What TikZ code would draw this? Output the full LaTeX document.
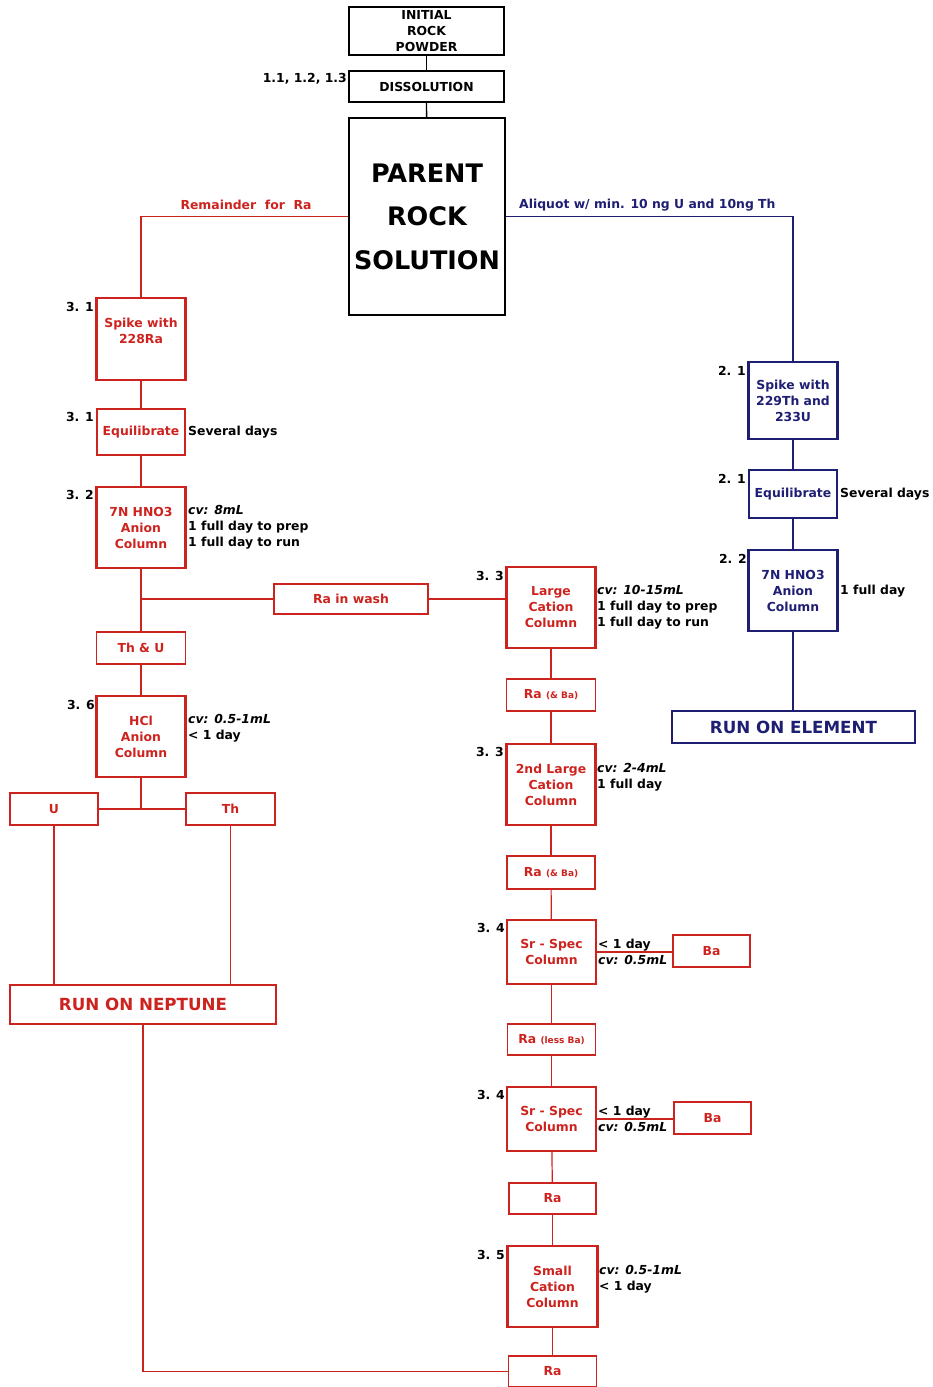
\documentclass[tikz,border=0pt]{standalone}
\usepackage{fontspec}
\setmainfont{DejaVu Sans}
\definecolor{rd}{RGB}{205,35,30}
\definecolor{nv}{RGB}{30,30,115}
\begin{document}
\begin{tikzpicture}[x=1pt,y=-1pt,
  every node/.style={font=\fontsize{12.4}{16}\selectfont\bfseries, inner sep=0pt},
  sz/.style 2 args={minimum width=#1pt, minimum height=#2pt},
  bx/.style={draw, align=center},
  thin/.style={bx, line width=1.2pt},
  thick/.style={bx, line width=2.3pt},
  rthin/.style={thin, draw=rd, text=rd},
  rthick/.style={thick, draw=rd, text=rd},
  nthin/.style={thin, draw=nv, text=nv},
  nthick/.style={thick, draw=nv, text=nv},
  rl/.style={draw=rd, line width=1.2pt},
  nl/.style={draw=nv, line width=1.2pt},
  kl/.style={draw=black, line width=1.3pt},
  stepl/.style={anchor=east, text=black},
  side/.style={anchor=west, align=left, text=black},
  small/.style={font=\fontsize{9.5}{10}\selectfont\bfseries}
]
\useasboundingbox (0,0) rectangle (933,1387);

% ---------- black top ----------
\node[thick, sz={155}{48}] (ini) at (426.5,31) {INITIAL\\ROCK\\POWDER};
\node[thin, sz={155}{31}] (diss) at (426.5,86.5) {DISSOLUTION};
\node[stepl] (l11) at (347,79) {1.1, 1.2, 1.3};
\node[bx, line width=2.5pt, sz={156}{197}, font=\fontsize{25.5}{43.5}\selectfont\bfseries] (parent) at (427,216.5) {PARENT\\ROCK\\SOLUTION};
\draw[kl] (ini) -- (diss);
\draw[kl] (diss) -- (parent);

% ---------- branch labels ----------
\node[text=rd] (rem) at (246,205) {Remainder\ \ for\ \ Ra};
\node[text=nv, anchor=west] (ali) at (519,205) {Aliquot w/ min. 10 ng U and 10ng Th};

% ---------- left red column ----------
\node[rthick, sz={89}{82}] (s31a) at (141,339) {Spike with\\228Ra\\\mbox{}};
\node[rthin, sz={88}{46}] (s31b) at (141,432) {Equilibrate};
\node[rthick, sz={89}{81}] (s32) at (141,527.5) {7N HNO3\\Anion\\Column};
\node[rthin, sz={89}{32}] (thu) at (141,648) {Th \& U};
\node[rthick, sz={89}{81}] (hcl) at (141,736.5) {HCl\\Anion\\Column};
\node[rthin, sz={88}{32}] (ubox) at (54,809) {U};
\node[rthin, sz={89}{32}] (thbox) at (230.5,809) {Th};
\node[rthin, sz={266}{39}, font=\fontsize{16.7}{20}\selectfont\bfseries] (nep) at (143,1004.5) {RUN ON NEPTUNE};
\node[rthin, sz={154}{30}] (rawash) at (351,599) {Ra in wash};

\node[stepl] (n31a) at (94,307) {3. 1};
\node[stepl] (n31b) at (94,417) {3. 1};
\node[stepl] (n32) at (94,495) {3. 2};
\node[stepl] (n36) at (95,705) {3. 6};
\node[side] (t31b) at (188,432) {Several days};
\node[side] (t32) at (188,527.5) {\itshape cv: 8mL\\1 full day to prep\\1 full day to run};
\node[side] (t36) at (188,728) {\itshape cv: 0.5-1mL\\< 1 day};

\draw[rl] (parent.west) -- (parent.west -| s31a) -- (s31a.north);
\draw[rl] (s31a) -- (s31b);
\draw[rl] (s31b) -- (s32);
\draw[rl] (s32) -- (thu);
\draw[rl] (thu) -- (hcl);
\draw[rl] (rawash.west) -- (rawash.west -| s32.south);
\draw[rl] (hcl.south) -- (hcl.south |- ubox.east);
\draw[rl] (ubox.east) -- (thbox.west);
\draw[rl] (ubox.south) -- (ubox.south |- nep.north);
\draw[rl] (thbox.south) -- (thbox.south |- nep.north);

% ---------- middle red column ----------
\node[rthick, sz={89}{81}] (lc) at (551,607.5) {Large\\Cation\\Column};
\node[rthin, sz={89}{32}] (rab1) at (551,695) {Ra {\small(\& Ba)}};
\node[rthick, sz={89}{81}] (lc2) at (551,784.5) {2nd Large\\Cation\\Column};
\node[rthin, sz={88}{33}] (rab2) at (551,872.5) {Ra {\small(\& Ba)}};
\node[rthick, sz={89}{64}] (sr1) at (551.5,952) {Sr - Spec\\Column};
\node[rthin, sz={77}{32}] (ba1) at (711.5,951) {Ba};
\node[rthin, sz={88}{31}] (raless) at (551.5,1039.5) {Ra {\small(less Ba)}};
\node[rthick, sz={89}{64}] (sr2) at (551.5,1119) {Sr - Spec\\Column};
\node[rthin, sz={77}{32}] (ba2) at (712.5,1118) {Ba};
\node[rthin, sz={87}{31}] (ra3) at (552.5,1198.5) {Ra};
\node[rthick, sz={90}{81}] (sc) at (552.5,1286.5) {Small\\Cation\\Column};
\node[rthin, sz={88}{31}] (ra4) at (552.5,1371.5) {Ra};

\node[stepl] (n33a) at (504,576) {3. 3};
\node[stepl] (n33b) at (504,752) {3. 3};
\node[stepl] (n34a) at (505,928) {3. 4};
\node[stepl] (n34b) at (505,1095) {3. 4};
\node[stepl] (n35) at (505,1255) {3. 5};
\node[side] (t33a) at (597,607) {\itshape cv: 10-15mL\\1 full day to prep\\1 full day to run};
\node[side] (t33b) at (597,777) {\itshape cv: 2-4mL\\1 full day};
\node[side] (t34a) at (598,952) {< 1 day\\\itshape cv: 0.5mL};
\node[side] (t34b) at (598,1119) {< 1 day\\\itshape cv: 0.5mL};
\node[side] (t35) at (599,1279) {\itshape cv: 0.5-1mL\\< 1 day};

\draw[rl] (rawash.east) -- (rawash.east -| lc.west);
\draw[rl] (lc) -- (rab1);
\draw[rl] (rab1) -- (lc2);
\draw[rl] (lc2) -- (rab2);
\draw[rl] (rab2) -- (sr1);
\draw[rl] (sr1) -- (raless);
\draw[rl] (raless) -- (sr2);
\draw[rl] (sr2) -- (ra3);
\draw[rl] (ra3) -- (sc);
\draw[rl] (sc) -- (ra4);
\draw[rl] (sr1.east) -- (sr1.east -| ba1.west);
\draw[rl] (sr2.east) -- (sr2.east -| ba2.west);
\draw[rl] (nep.south) -- (nep.south |- ra4.west) -- (ra4.west);

% ---------- right blue column ----------
\node[nthick, sz={89}{77}] (b21) at (793,400.5) {Spike with\\229Th and\\233U};
\node[nthin, sz={88}{48}] (b21e) at (793,494) {Equilibrate};
\node[nthick, sz={89}{81}] (b22) at (793,590.5) {7N HNO3\\Anion\\Column};
\node[nthin, sz={243}{32}, font=\fontsize{16.7}{20}\selectfont\bfseries] (elem) at (793.5,727) {RUN ON ELEMENT};

\node[stepl] (n21a) at (746,371) {2. 1};
\node[stepl] (n21b) at (746,479) {2. 1};
\node[stepl] (n22) at (747,559) {2. 2};
\node[side] (t21) at (840,494) {Several days};
\node[side] (t22) at (840,591) {1 full day};

\draw[nl] (parent.east) -- (parent.east -| b21) -- (b21.north);
\draw[nl] (b21) -- (b21e);
\draw[nl] (b21e) -- (b22);
\draw[nl] (b22) -- (b22 |- elem.north);
\end{tikzpicture}
\end{document}
